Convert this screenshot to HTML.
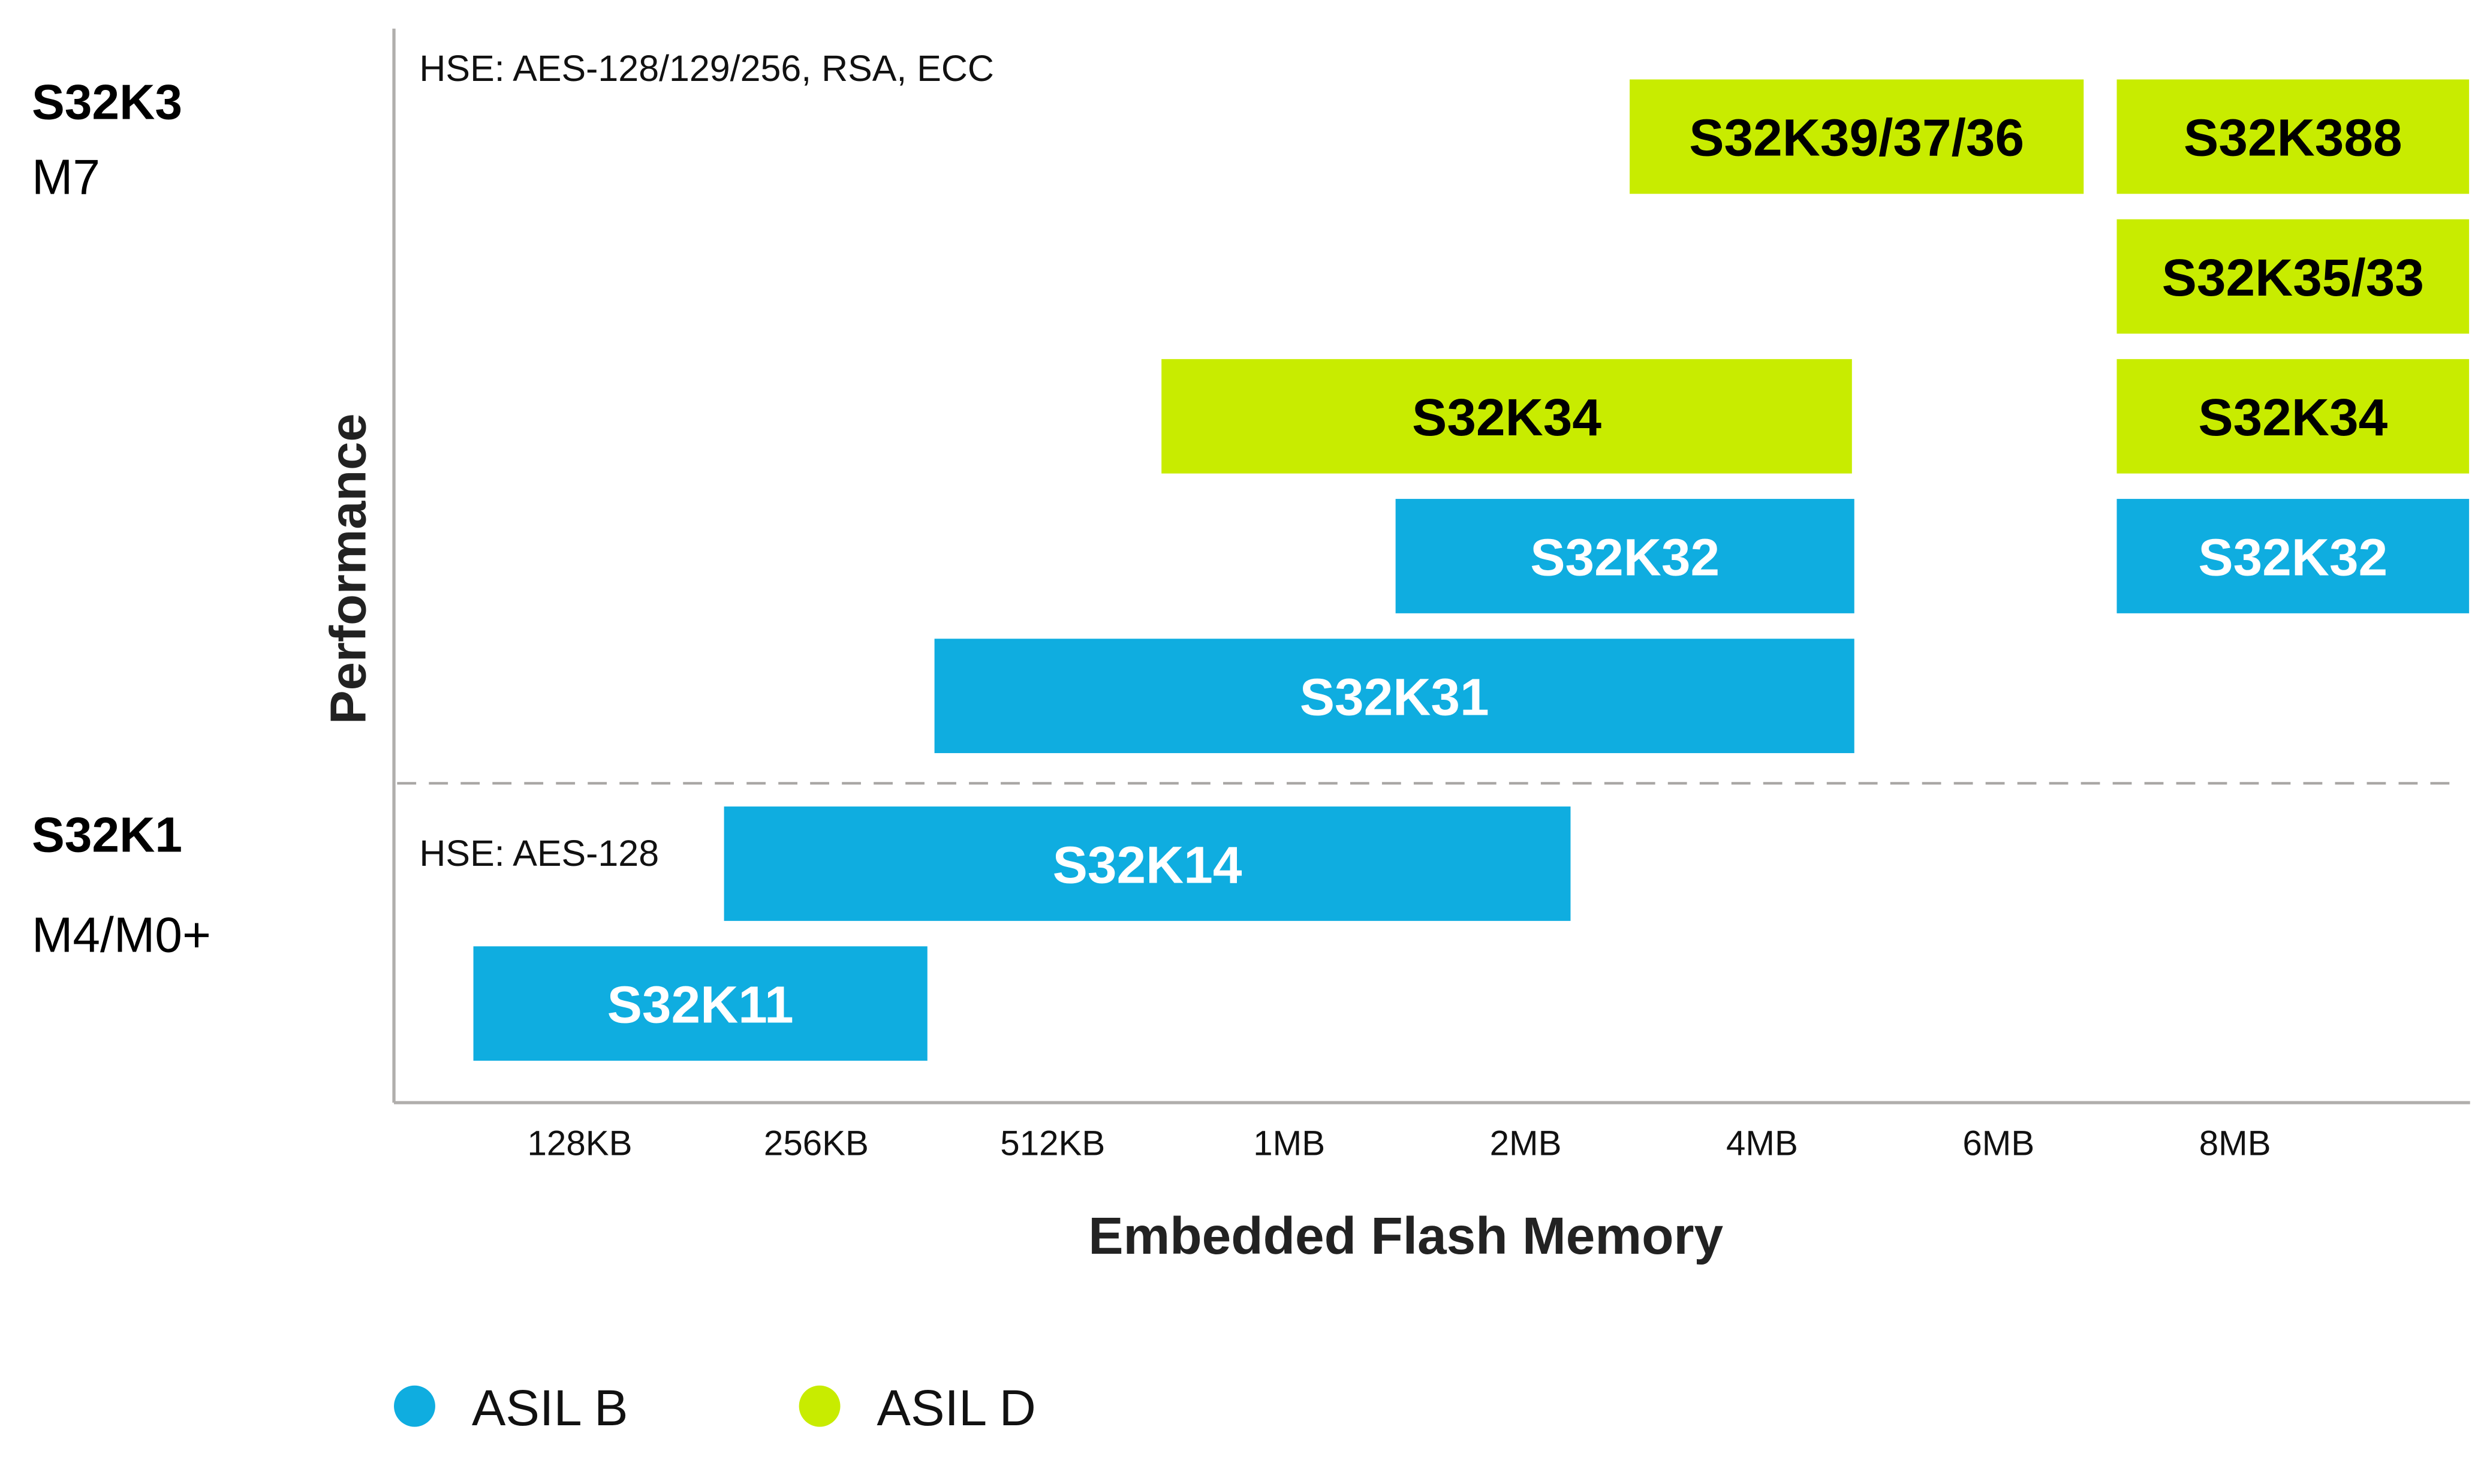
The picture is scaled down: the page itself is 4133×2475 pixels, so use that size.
<!DOCTYPE html>
<html><head><meta charset="utf-8"><style>
html,body{margin:0;padding:0;background:#fff;}
svg{display:block;}
text{font-family:"Liberation Sans",sans-serif;}
</style></head><body>
<svg id="chart" width="4133" height="2475" viewBox="0 0 1560 934" preserveAspectRatio="none" xmlns="http://www.w3.org/2000/svg">
<g id="static">
<line x1="248" y1="18" x2="248" y2="694" stroke="#b0aeac" stroke-width="2"/>
<line x1="248" y1="694" x2="1555" y2="694" stroke="#b0aeac" stroke-width="2"/>
<line x1="250" y1="493" x2="1545" y2="493" stroke="#a8a6a4" stroke-width="1.6" stroke-dasharray="12,8"/>
<text x="20" y="75" font-size="31" font-weight="bold" fill="#000">S32K3</text>
<text x="20" y="122" font-size="31" fill="#000">M7</text>
<text x="20" y="536" font-size="31" font-weight="bold" fill="#000">S32K1</text>
<text x="20" y="599" font-size="31" fill="#000">M4/M0+</text>
<text x="264" y="51" font-size="23" fill="#111">HSE: AES-128/129/256, RSA, ECC</text>
<text x="264" y="545" font-size="23" fill="#111">HSE: AES-128</text>
<text transform="translate(230,358) rotate(-90)" text-anchor="middle" font-size="32" font-weight="bold" fill="#222">Performance</text>
<text x="885" y="789" text-anchor="middle" font-size="33" font-weight="bold" fill="#222">Embedded Flash Memory</text>
<circle cx="261" cy="885" r="13" fill="#0fade0"/>
<text x="297" y="897" font-size="32" fill="#111">ASIL B</text>
<circle cx="516" cy="885" r="13" fill="#c8ec00"/>
<text x="552" y="897" font-size="32" fill="#111">ASIL D</text>
</g>
<g id="ticks"></g>
<g id="bars"></g>
</svg>
<script>
const tickLabels = ["128KB","256KB","512KB","1MB","2MB","4MB","6MB","8MB"];
const barNames = ["S32K39/37/36","S32K388","S32K35/33","S32K34","S32K34","S32K32","S32K32","S32K31","S32K14","S32K11"];
const barStart = [4.44,6.50,6.50,6.50,2.46,3.45,6.50,1.50,0.61,-0.45];
const barEnd   = [6.36,7.99,7.99,7.99,5.38,5.39,7.99,5.39,4.19,1.47];
const barLevel = [0,0,1,2,2,3,3,4,5.2,6.2];
const barAsil  = ["D","D","D","D","D","B","B","B","B","B"];

const NS = "http://www.w3.org/2000/svg";
function xScale(v){ return 365 + v * 148.86; }
function yScale(l){ return 50 + l * 88; }
const BAR_H = 72;

const tg = document.getElementById("ticks");
tickLabels.forEach((t, i) => {
  const el = document.createElementNS(NS, "text");
  
  
  el.setAttribute("x", xScale(i));
  el.setAttribute("y", 727);
  el.setAttribute("text-anchor", "middle");
  el.setAttribute("font-size", "22");
  el.setAttribute("fill", "#111");
  el.textContent = t;
  tg.appendChild(el);
});

const bg = document.getElementById("bars");
barNames.forEach((n, i) => {
  const x0 = xScale(barStart[i]), x1 = xScale(barEnd[i]);
  const y0 = yScale(barLevel[i]);
  const isD = barAsil[i] === "D";
  const r = document.createElementNS(NS, "rect");
  
  
  r.setAttribute("x", x0);
  r.setAttribute("y", y0);
  r.setAttribute("width", x1 - x0);
  r.setAttribute("height", BAR_H);
  r.setAttribute("fill", isD ? "#c8ec00" : "#0fade0");
  bg.appendChild(r);
  const t = document.createElementNS(NS, "text");
  
  
  t.setAttribute("x", (x0 + x1) / 2);
  t.setAttribute("y", y0 + BAR_H / 2 + 12);
  t.setAttribute("text-anchor", "middle");
  t.setAttribute("font-size", "33");
  t.setAttribute("font-weight", "bold");
  t.setAttribute("fill", isD ? "#000" : "#fff");
  t.textContent = n;
  bg.appendChild(t);
});
</script>
</body></html>
